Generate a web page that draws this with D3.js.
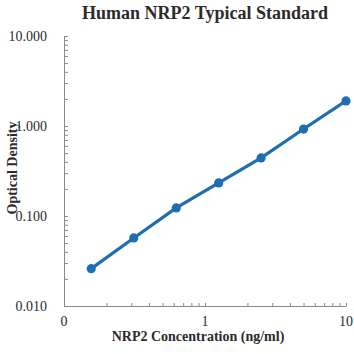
<!DOCTYPE html>
<html>
<head>
<meta charset="utf-8">
<script src="https://cdn.jsdelivr.net/npm/d3@7"></script>
<style>
  body { margin: 0; background: #fff; }
  svg text { font-family: "Liberation Serif", "Times New Roman", serif; fill: #2b2b2b; }
  .axis path, .axis line { stroke: #8a8a8a; }
</style>
</head>
<body>
<svg id="chart" width="354" height="354"></svg>
<script>
// standard curve: concentration (ng/ml) vs optical density
const conc = [0.156, 0.3125, 0.625, 1.25, 2.5, 5, 10];
const od = [0.026, 0.057, 0.123, 0.233, 0.442, 0.925, 1.9];
const xMajor = [0.1, 1, 10];
const xLabels = ["0", "1", "10"];
const yMajor = [0.01, 0.1, 1, 10];
const yLabels = ["0.010", "0.100", "1.000", "10.000"];

const svg = d3.select("#chart");
const x = d3.scaleLog().domain([0.1, 10]).range([64, 346]);
const y = d3.scaleLog().domain([0.01, 10]).range([306, 36]);

// all decade ticks (majors + 2..9 minors)
const minorX = x.ticks(20);
const minorY = y.ticks(40);

svg.append("g").attr("class", "axis").attr("transform", `translate(0,${y(0.01)})`)
  .call(d3.axisBottom(x).tickValues(minorX).tickSizeInner(-3).tickSizeOuter(0).tickFormat(""));
svg.append("g").attr("transform", `translate(0,${y(0.01)})`)
  .selectAll("text").data(xMajor).join("text")
  .attr("x", d => x(d)).attr("y", 20).attr("text-anchor", "middle")
  .style("font-size", "14px").text((d, i) => xLabels[i]);

svg.append("g").attr("class", "axis").attr("transform", `translate(${x(0.1)},0)`)
  .call(d3.axisLeft(y).tickValues(minorY).tickSizeInner(-4).tickSizeOuter(0).tickFormat(""));
svg.append("g").selectAll("text").data(yMajor).join("text")
  .attr("x", 47).attr("y", d => y(d)).attr("dy", "0.35em").attr("text-anchor", "end")
  .style("font-size", "14px").text((d, i) => yLabels[i]);

// title + axis titles
svg.append("text").attr("x", 205).attr("y", 19).attr("text-anchor", "middle")
  .style("font-size", "18px").style("font-weight", "bold").text("Human NRP2 Typical Standard");
svg.append("text").attr("x", 198).attr("y", 341).attr("text-anchor", "middle")
  .style("font-size", "14px").style("font-weight", "bold").text("NRP2 Concentration (ng/ml)");
svg.append("text").attr("transform", "rotate(-90)").attr("x", -168).attr("y", 17)
  .attr("text-anchor", "middle").style("font-size", "14px").style("font-weight", "bold").text("Optical Density");

// curve
const pts = conc.map((c, i) => [c, od[i]]);
svg.append("path").datum(pts)
  .attr("fill", "none").attr("stroke", "#1f6db3").attr("stroke-width", 3.2).attr("stroke-linecap", "round")
  .attr("d", d3.line().x(d => x(d[0])).y(d => y(d[1])));
svg.append("g").selectAll("circle").data(pts).join("circle")
  .attr("cx", d => x(d[0])).attr("cy", d => y(d[1])).attr("r", 4.6)
  .attr("fill", "#1f6db3");
</script>
</body>
</html>
